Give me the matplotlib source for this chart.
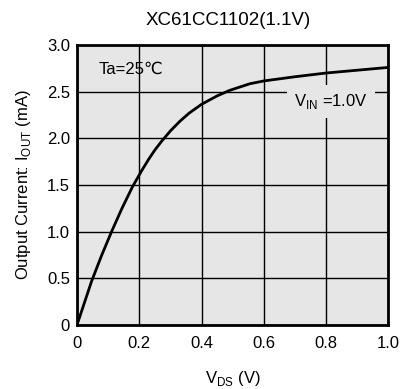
import matplotlib
matplotlib.use('Agg')
import matplotlib.pyplot as plt

plt.rcParams['font.family'] = ['Liberation Sans', 'DejaVu Sans']

# data
vds = [0, 0.047, 0.079, 0.111, 0.143, 0.178, 0.207, 0.229, 0.25, 0.272, 0.3,
       0.331, 0.36, 0.4, 0.45, 0.491, 0.555, 0.6, 0.7, 0.8, 0.9, 1.0]
iout = [0, 0.47, 0.745, 1.0, 1.24, 1.48, 1.65, 1.77, 1.875, 1.97, 2.08,
        2.185, 2.27, 2.365, 2.455, 2.515, 2.585, 2.615, 2.66, 2.70, 2.73, 2.76]

xticks = [0, 0.2, 0.4, 0.6, 0.8, 1.0]
xticklabels = ['0', '0.2', '0.4', '0.6', '0.8', '1.0']
yticks = [0, 0.5, 1.0, 1.5, 2.0, 2.5, 3.0]
yticklabels = ['0', '0.5', '1.0', '1.5', '2.0', '2.5', '3.0']

fig = plt.figure(figsize=(4.02, 3.89), dpi=100)
ax = fig.add_axes([0.1915, 0.1645, 0.7749, 0.7198])
ax.set_facecolor('#e6e6e6')

ax.plot(vds, iout, color='black', lw=2.0, zorder=3, solid_joinstyle='round')

ax.set_xlim(0, 1.0)
ax.set_ylim(0, 3.0)
ax.set_xticks(xticks)
ax.set_xticklabels(xticklabels, fontsize=12)
ax.set_yticks(yticks)
ax.set_yticklabels(yticklabels, fontsize=12)
ax.tick_params(axis='x', length=0, pad=8)
ax.tick_params(axis='y', length=0, pad=5)
ax.grid(True, color='black', lw=1.0)
ax.set_axisbelow(True)
for s in ax.spines.values():
    s.set_linewidth(2.0)

ax.set_xlabel(r'V$_{\mathregular{DS}}$ (V)', fontsize=12, labelpad=13)
ax.set_ylabel(r'Output Current: I$_{\mathregular{OUT}}$ (mA)', fontsize=12, labelpad=10)

fig.text(0.567, 0.948, 'XC61CC1102(1.1V)', ha='center', va='center', fontsize=13.5)

ax.text(0.07, 2.74, 'Ta=25\u2103', fontsize=12, ha='left', va='center')
ax.text(0.815, 2.40, r'V$_{\mathregular{IN}}$ =1.0V', fontsize=12, ha='center', va='center',
        bbox=dict(facecolor='#e6e6e6', edgecolor='none', pad=5), zorder=4)

fig.savefig('out.png', dpi=100)
